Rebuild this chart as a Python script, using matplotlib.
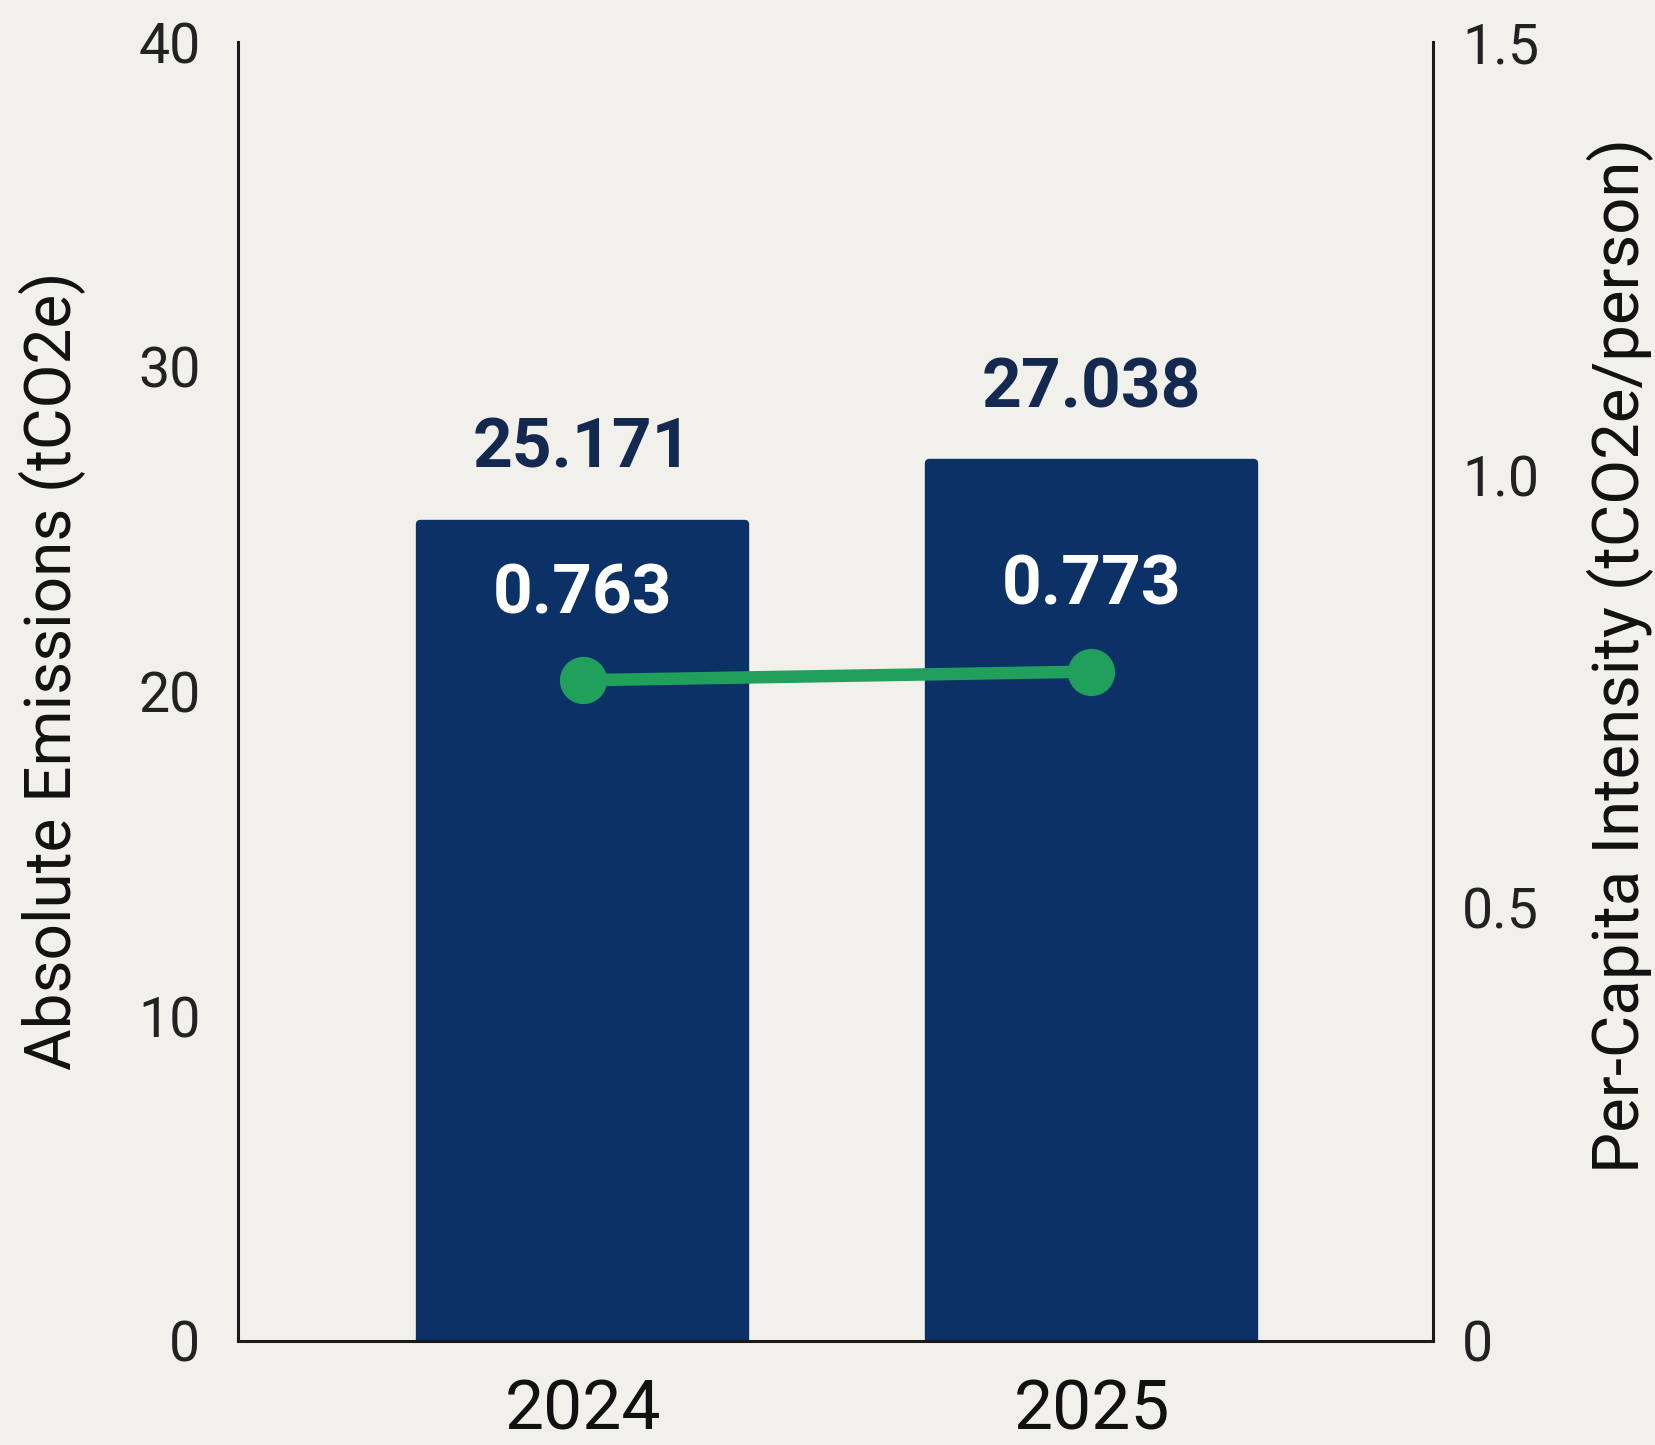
import matplotlib
matplotlib.use("Agg")
import matplotlib.pyplot as plt

years = ["2024", "2025"]
absolute_emissions = [25.171, 27.038]
per_capita = [0.763, 0.773]
left_ticks = [0, 10, 20, 30, 40]
right_ticks = [0, 0.5, 1.0, 1.5]
right_tick_labels = ["0", "0.5", "1.0", "1.5"]

plt.rcParams['font.family'] = ['Roboto', 'DejaVu Sans']

BG = "#f1f0eb"
BAR = "#0b3166"
NAVY = "#14294f"
GREEN = "#21a05c"

fig = plt.figure(figsize=(16.56, 14.45), dpi=100, facecolor=BG)
ax = fig.add_axes([0.1437, 0.072, 0.8653 - 0.1437, 0.9709 - 0.072])
ax.set_facecolor(BG)

x = list(range(len(years)))
bars = ax.bar(x, absolute_emissions, width=0.64, color=BAR, edgecolor=BAR,
              linewidth=6, zorder=2)
for b in bars:
    b.set_joinstyle('round')
ax.set_xlim(-0.677, 1.671)
ax.set_ylim(0, 40)
ax.set_yticks(left_ticks)
ax.set_yticklabels([str(t) for t in left_ticks])
ax.set_xticks(x)
ax.set_xticklabels(years)
ax.tick_params(axis='y', length=0, pad=27, labelsize=40, colors="#222222")
ax.tick_params(axis='x', length=0, pad=26, labelsize=50, colors="#111111")
for s in ["top", "right"]:
    ax.spines[s].set_visible(False)
for s in ["left", "bottom"]:
    ax.spines[s].set_linewidth(2.2)
    ax.spines[s].set_color("#1a1a1a")
ax.set_ylabel("Absolute Emissions (tCO2e)", fontsize=46, color="#111111")
ax.yaxis.label.set_va("center")
ax.yaxis.set_label_coords(-0.155, 0.516)

for xi, v in zip(x, absolute_emissions):
    ax.annotate(f"{v:.3f}", (xi, v), xytext=(0, 30), textcoords="offset points",
                ha="center", va="bottom", fontsize=50, fontweight="bold", color=NAVY)

ax2 = ax.twinx()
ax2.set_ylim(0, 1.5)
ax2.set_yticks(right_ticks)
ax2.set_yticklabels(right_tick_labels)
ax2.tick_params(axis='y', length=0, pad=21, labelsize=40, colors="#222222")
for s in ["top", "left", "bottom"]:
    ax2.spines[s].set_visible(False)
ax2.spines["right"].set_linewidth(2.2)
ax2.spines["right"].set_color("#1a1a1a")
ax2.set_ylabel("Per-Capita Intensity (tCO2e/person)", fontsize=47, color="#111111")
ax2.yaxis.label.set_va("center")
ax2.yaxis.set_label_coords(1.157, 0.528)

ax2.plot(x, per_capita, color=GREEN, lw=9, marker="o", markersize=33,
         solid_capstyle="round", zorder=3)
for xi, v in zip(x, per_capita):
    ax2.annotate(f"{v:.3f}", (xi, v), xytext=(0, 38), textcoords="offset points",
                 ha="center", va="bottom", fontsize=50, fontweight="bold", color="white")

fig.savefig("out.png", dpi=100, facecolor=BG)
